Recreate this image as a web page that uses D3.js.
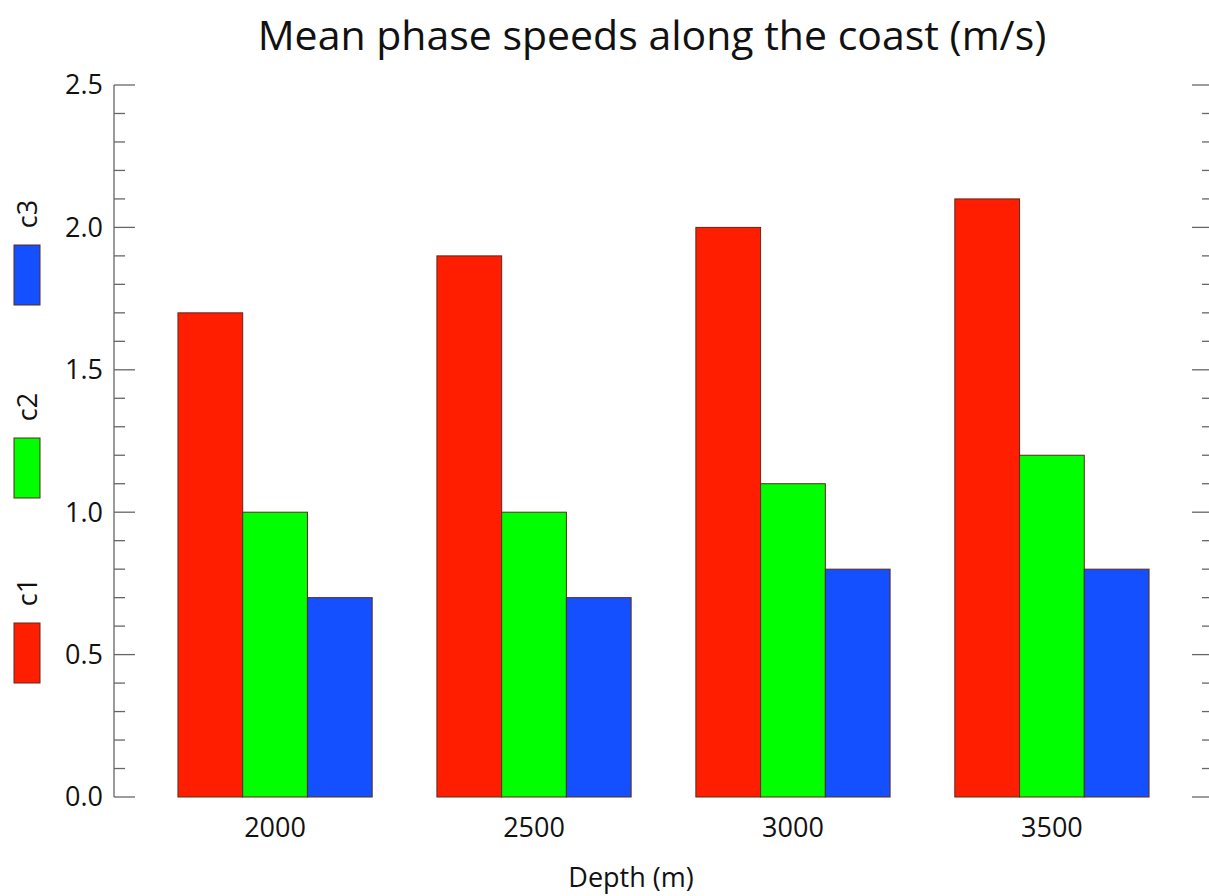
<!DOCTYPE html>
<html><head><meta charset="utf-8">
<script src="https://cdn.jsdelivr.net/npm/d3@7"></script>
<style>body{margin:0;background:#fff;} svg{display:block;} text{font-family:"Open Sans","Noto Sans",sans-serif;fill:#111;}</style>
</head><body>
<svg id="c" width="1209" height="896"></svg>
<script>
const categories = ["2000","2500","3000","3500"];
const seriesNames = ["c1","c2","c3"];
const c1 = [1.7,1.9,2.0,2.1];
const c2 = [1.0,1.0,1.1,1.2];
const c3 = [0.7,0.7,0.8,0.8];
const colors = ["#ff1e00","#00ff00","#1450ff"];
const yTicks = [0.0,0.5,1.0,1.5,2.0,2.5];

const svg = d3.select("#c");
const L = 114, R = 1213, T = 85, B = 797;
const y = d3.scaleLinear().domain([0,2.5]).range([B,T]);
const x = d3.scaleBand().domain(categories).range([L,R]).paddingInner(0.25).paddingOuter(0.247);
const xs = d3.scaleBand().domain(seriesNames).range([0,x.bandwidth()]);
const values = [c1,c2,c3];

categories.forEach((cat,i)=>{
  seriesNames.forEach((s,j)=>{
    svg.append("rect")
      .attr("x", x(cat)+xs(s)).attr("y", y(values[j][i]))
      .attr("width", xs.bandwidth()).attr("height", y(0)-y(values[j][i]))
      .attr("fill", colors[j]).attr("stroke","#5a2a1a").attr("stroke-width",1);
  });
});

// left axis
const minor = d3.range(0,2.5001,0.1);
const gL = svg.append("g").attr("transform",`translate(${L},0)`);
gL.append("line").attr("x1",0).attr("x2",0).attr("y1",y(0)).attr("y2",y(2.5)).attr("stroke","#666").attr("stroke-width",1.3);
minor.forEach(v=>{
  const major = Math.abs(v*2 - Math.round(v*2))<1e-6;
  gL.append("line").attr("x1",0).attr("x2",major?21:11).attr("y1",y(v)).attr("y2",y(v)).attr("stroke","#666").attr("stroke-width",1.3);
});
yTicks.forEach(v=>{
  gL.append("text").attr("x",-11).attr("y",y(v)).attr("dy","0.35em").attr("text-anchor","end")
    .attr("font-size",27).text(d3.format(".1f")(v));
});
// right axis ticks
const gR = svg.append("g").attr("transform",`translate(${R},0)`);
minor.forEach(v=>{
  const major = Math.abs(v*2 - Math.round(v*2))<1e-6;
  gR.append("line").attr("x1",0).attr("x2",major?-21:-11).attr("y1",y(v)).attr("y2",y(v)).attr("stroke","#666").attr("stroke-width",1.3);
});

// x labels
categories.forEach(cat=>{
  svg.append("text").attr("x",x(cat)+x.bandwidth()/2).attr("y",837).attr("text-anchor","middle").attr("font-size",27).text(cat);
});
svg.append("text").attr("x",631).attr("y",887).attr("text-anchor","middle").attr("font-size",27).text("Depth (m)");
svg.append("text").attr("x",652).attr("y",50).attr("text-anchor","middle").attr("font-size",41).text("Mean phase speeds along the coast (m/s)");

// legend
const legY = [623,438,245];
seriesNames.forEach((s,j)=>{
  svg.append("rect").attr("x",14).attr("y",legY[j]).attr("width",26).attr("height",60)
    .attr("fill",colors[j]).attr("stroke","#5a2a1a").attr("stroke-width",1);
  svg.append("text").attr("transform",`translate(37,${legY[j]-31}) rotate(-90)`)
    .attr("text-anchor","middle").attr("font-size",27).text(s);
});
</script>
</body></html>
